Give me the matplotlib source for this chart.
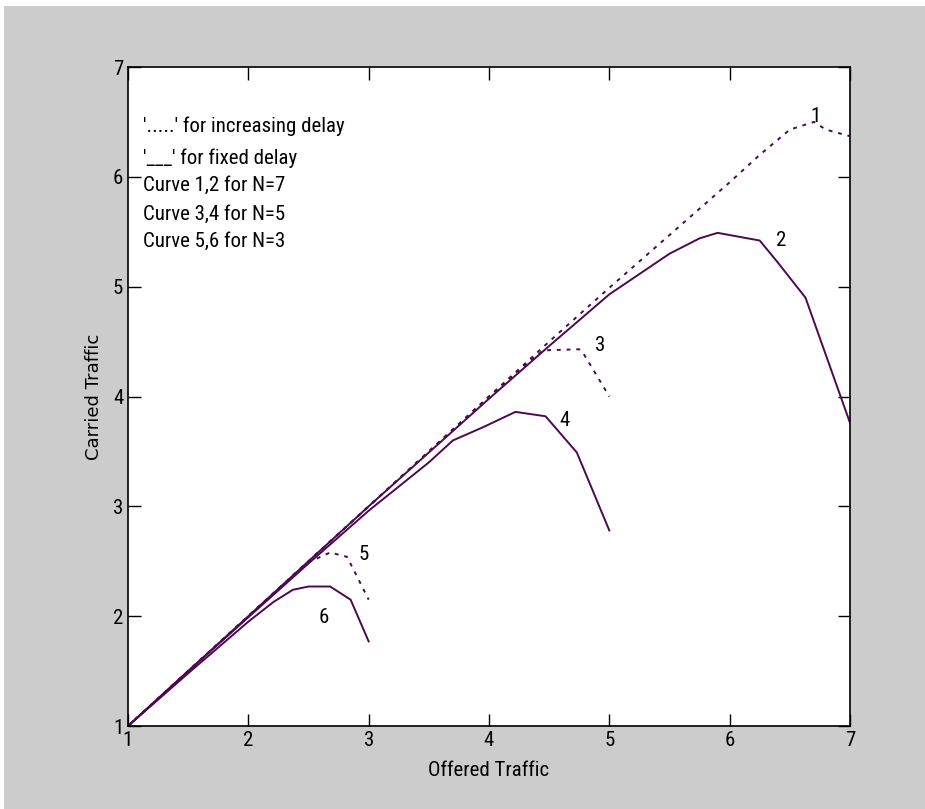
import numpy as np
import matplotlib.pyplot as plt
from matplotlib.patches import Rectangle
from matplotlib import font_manager

# Curves (offered traffic -> carried traffic)
x1 = [1, 1.5, 2, 2.5, 3, 3.5, 4, 4.5, 5, 5.5, 6, 6.25, 6.5, 6.7, 6.8, 7]
y1 = [1, 1.5, 2, 2.5, 3, 3.5, 4, 4.5, 4.99, 5.47, 5.95, 6.2, 6.43, 6.5, 6.43, 6.37]
x2 = [1, 1.5, 2, 2.5, 3, 3.5, 4, 4.5, 5, 5.5, 5.75, 5.9, 6.25, 6.4, 6.63, 7]
y2 = [1, 1.5, 2, 2.5, 3, 3.49, 3.98, 4.46, 4.93, 5.3, 5.44, 5.49, 5.42, 5.22, 4.9, 3.76]
x3 = [1, 1.5, 2, 2.5, 3, 3.5, 4, 4.25, 4.45, 4.75, 4.78, 5]
y3 = [1, 1.5, 2, 2.5, 3, 3.5, 4, 4.24, 4.42, 4.43, 4.4, 4.0]
x4 = [1, 1.5, 2, 2.5, 3, 3.5, 3.7, 3.95, 4.22, 4.47, 4.73, 5]
y4 = [1, 1.5, 1.99, 2.48, 2.96, 3.4, 3.6, 3.72, 3.86, 3.82, 3.49, 2.78]
x5 = [1, 1.5, 2, 2.5, 2.68, 2.82, 2.89, 3]
y5 = [1, 1.5, 2, 2.49, 2.58, 2.54, 2.39, 2.15]
x6 = [1, 1.5, 2, 2.21, 2.37, 2.5, 2.68, 2.85, 3]
y6 = [1, 1.48, 1.95, 2.13, 2.24, 2.27, 2.27, 2.15, 1.77]

labels = ['1', '2', '3', '4', '5', '6']
label_x = [6.71, 6.43, 4.92, 4.63, 2.96, 2.63]
label_y = [6.55, 5.42, 4.46, 3.78, 2.56, 1.99]

notes = ["'.....' for increasing delay", "'___' for fixed delay",
         'Curve 1,2 for N=7', 'Curve 3,4 for N=5', 'Curve 5,6 for N=3']
note_y = [6.46, 6.17, 5.92, 5.66, 5.41]

col = '#4b0a50'

# pick an upright narrow font, like the original
narrow = font_manager.FontProperties(family='DejaVu Sans', size=14)
best = 99
for f in font_manager.fontManager.ttflist:
    if f.style != 'normal' or f.weight not in (400, 'normal', 'regular'):
        continue
    n = f.name + ' ' + f.fname
    if 'Italic' in n or 'Oblique' in n or 'Bold' in n or 'Light' in n:
        continue
    rank = 99
    if 'Liberation Sans Narrow' in f.name:
        rank = 0
    elif 'Condensed' in n and 'Roboto' in n:
        rank = 1
    elif 'Condensed' in n or 'Narrow' in n or f.stretch == 'condensed':
        rank = 2
    if rank < best:
        best = rank
        narrow = font_manager.FontProperties(fname=f.fname, size=15)

fig = plt.figure(figsize=(9.25, 8.09), dpi=100, facecolor='white')
fig.patches.append(Rectangle((4 / 925, 0), 1, (809 - 6) / 809, transform=fig.transFigure,
                             facecolor='#cccccc', edgecolor='none', zorder=-10))
ax = fig.add_axes([128 / 925, 83 / 809, 722 / 925, 659 / 809])

dot = (0, (2, 3))
ax.plot(x1, y1, color=col, lw=1.4, linestyle=dot)
ax.plot(x2, y2, color=col, lw=1.4)
ax.plot(x3, y3, color=col, lw=1.4, linestyle=dot)
ax.plot(x4, y4, color=col, lw=1.4)
ax.plot(x5, y5, color=col, lw=1.4, linestyle=dot)
ax.plot(x6, y6, color=col, lw=1.4)

for t, lx, ly in zip(labels, label_x, label_y):
    ax.text(lx, ly, t, fontproperties=narrow, ha='center', va='center')

for t, ny in zip(notes, note_y):
    ax.text(1.125, ny, t, fontproperties=narrow, ha='left', va='center')

ax.set_xlim(1, 7)
ax.set_ylim(1, 7)
ax.set_xticks(range(1, 8))
ax.set_yticks(range(1, 8))
ax.tick_params(direction='in', length=9, width=1, top=True, right=True)
for lab in ax.get_xticklabels() + ax.get_yticklabels():
    lab.set_fontproperties(narrow)
for s in ax.spines.values():
    s.set_linewidth(1.2)

ax.set_xlabel('Offered Traffic', fontproperties=narrow, labelpad=8)
ax.set_ylabel('Carried Traffic', fontsize=13)
ax.yaxis.set_label_coords(-0.035, 0.5)

fig.savefig('out.png', dpi=100, facecolor=fig.get_facecolor())
